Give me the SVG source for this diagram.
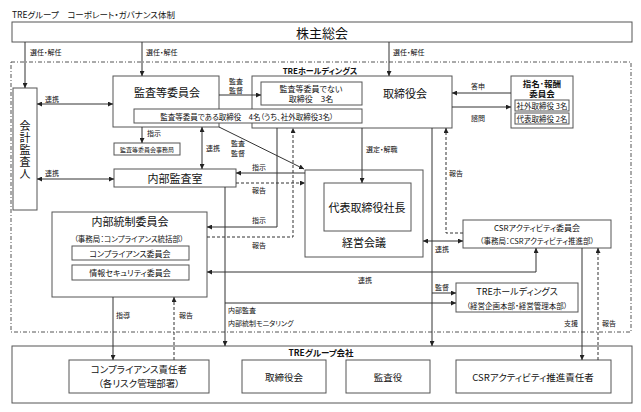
<svg xmlns="http://www.w3.org/2000/svg" width="641" height="412" viewBox="0 0 641 412">
<defs>
<style>
.t{font-family:"Noto Sans CJK JP","Noto Sans CJK SC",sans-serif;font-feature-settings:"palt";fill:#111;dominant-baseline:central}
.c{text-anchor:middle}
.s{font-size:7px}
.m{font-size:8px}
.b{font-weight:bold}
.box{fill:#fff;stroke:#555;stroke-width:1}
.ln{stroke:#333;fill:none;stroke-width:1}
.dash{stroke-dasharray:3 2}
.dd{fill:none;stroke:#555;stroke-width:1;stroke-dasharray:4 2 1 2}
</style>
<marker id="ah" viewBox="0 0 6 6" refX="6" refY="3" markerWidth="5" markerHeight="5" markerUnits="userSpaceOnUse" orient="auto-start-reverse">
<path d="M0,0 L6,3 L0,6 z" fill="#222"/>
</marker>
</defs>
<rect width="641" height="412" fill="#fff"/>
<text class="t" x="12" y="14" font-size="8.5">TREグループ　コーポレート・ガバナンス体制</text>

<g id="shareholders">
<rect class="box" x="12" y="22" width="620" height="20"/>
<text class="t c" x="322" y="32" font-size="13">株主総会</text>
</g>

<g id="tre-holdings">
<rect class="dd" x="11" y="62" width="620" height="270"/>
<text class="t c b" x="320" y="70" font-size="8">TREホールディングス</text>
</g>

<g id="accounting-auditor">
<rect class="box" x="13" y="88" width="24" height="122"/>
<text class="t" x="25" y="120" font-size="11" letter-spacing="1" style="writing-mode:vertical-rl">会計監査人</text>
</g>

<g id="audit-committee">
<rect class="box" x="113" y="76" width="106" height="51"/>
<text class="t c" x="167" y="92" font-size="11">監査等委員会</text>
</g>

<g id="board">
<rect class="box" x="252" y="76" width="200" height="52"/>
<text class="t c" x="405" y="93" font-size="11">取締役会</text>
<rect class="box" x="261" y="82" width="101" height="23"/>
<text class="t c m" x="311" y="88">監査等委員でない</text>
<text class="t c m" x="311" y="98.5">取締役　3名</text>
</g>

<g id="audit-directors">
<rect class="box" x="134" y="109" width="228" height="14"/>
<text class="t c" x="247" y="116" font-size="7.5">監査等委員である取締役　4名（うち、社外取締役3名）</text>
</g>

<g id="nomination-committee">
<rect class="box" x="511" y="76" width="62" height="52"/>
<text class="t c b" x="542" y="82.5" font-size="8.5">指名･報酬</text>
<text class="t c b" x="542" y="93" font-size="8.5">委員会</text>
<rect class="box" x="515" y="100" width="54" height="11"/>
<text class="t c" x="542" y="105.5" font-size="7.5">社外取締役 3名</text>
<rect class="box" x="515" y="113" width="54" height="11"/>
<text class="t c" x="542" y="118.5" font-size="7.5">代表取締役 2名</text>
</g>

<g id="audit-secretariat">
<rect class="box" x="114" y="143" width="66" height="12"/>
<text class="t c" x="147" y="149" font-size="6">監査等委員会事務局</text>
</g>

<g id="internal-audit">
<rect class="box" x="114" y="169" width="122" height="18"/>
<text class="t c" x="175" y="178" font-size="11">内部監査室</text>
</g>

<g id="management-meeting">
<rect class="box" x="305" y="170" width="118" height="87"/>
<text class="t c" x="364" y="242" font-size="11">経営会議</text>
</g>

<g id="president">
<rect class="box" x="324" y="183" width="87" height="48"/>
<text class="t c" x="367" y="207" font-size="11">代表取締役社長</text>
</g>

<g id="internal-control-committee">
<rect class="box" x="52" y="212" width="155" height="85"/>
<text class="t c" x="130" y="221" font-size="11">内部統制委員会</text>
<text class="t c" x="129" y="238" font-size="7.5">（事務局：コンプライアンス統括部）</text>
<rect class="box" x="72" y="246" width="117" height="14"/>
<text class="t c m" x="130" y="253">コンプライアンス委員会</text>
<rect class="box" x="72" y="265" width="117" height="15"/>
<text class="t c m" x="130" y="272.5">情報セキュリティ委員会</text>
</g>

<g id="csr-committee">
<rect class="box" x="463" y="220" width="148" height="28"/>
<text class="t c m" x="537" y="227">CSRアクティビティ委員会</text>
<text class="t c" x="537" y="240" font-size="7.5">（事務局：CSRアクティビティ推進部）</text>
</g>

<g id="tre-hd-departments">
<rect class="box" x="456" y="283" width="122" height="29"/>
<text class="t c" x="517" y="291" font-size="9">TREホールディングス</text>
<text class="t c" x="517" y="305" font-size="7.5">（経営企画本部・経営管理本部）</text>
</g>

<g id="group-companies">
<rect class="box" x="12" y="346" width="620" height="57"/>
<text class="t c b" x="321" y="352" font-size="8.5">TREグループ会社</text>
</g>

<g id="compliance-officer">
<rect class="box" x="69" y="360" width="140" height="33"/>
<text class="t c" x="139" y="369" font-size="9.5">コンプライアンス責任者</text>
<text class="t c" x="139" y="383" font-size="9.5">（各リスク管理部署）</text>
</g>

<g id="group-board">
<rect class="box" x="242" y="360" width="84" height="33"/>
<text class="t c" x="284" y="377" font-size="9.5">取締役会</text>
</g>

<g id="group-auditor">
<rect class="box" x="346" y="360" width="84" height="33"/>
<text class="t c" x="388" y="377" font-size="9.5">監査役</text>
</g>

<g id="csr-officer">
<rect class="box" x="456" y="360" width="155" height="33"/>
<text class="t c" x="533" y="377" font-size="9.5">CSRアクティビティ推進責任者</text>
</g>

<g id="connectors">
<path class="ln" d="M25,42 V88" marker-end="url(#ah)"/>
<path class="ln" d="M142,42 V76" marker-end="url(#ah)"/>
<path class="ln" d="M389,42 V76" marker-end="url(#ah)"/>
<path class="ln" d="M37,104 H113" marker-start="url(#ah)" marker-end="url(#ah)"/>
<path class="ln" d="M219,95 H261" marker-end="url(#ah)"/>
<path class="ln" d="M511,93 H452" marker-end="url(#ah)"/>
<path class="ln" d="M452,107 H511" marker-end="url(#ah)"/>
<path class="ln" d="M142,127 V143" marker-end="url(#ah)"/>
<path class="ln" d="M202,127 V169" marker-start="url(#ah)" marker-end="url(#ah)"/>
<path class="ln" d="M219,127 L304,169" marker-end="url(#ah)"/>
<path class="ln" d="M37,179 H114" marker-start="url(#ah)" marker-end="url(#ah)"/>
<path class="ln" d="M305,173 H236" marker-end="url(#ah)"/>
<path class="ln dash" d="M236,183 H305" marker-end="url(#ah)"/>
<path class="ln" d="M362,128 V183" marker-end="url(#ah)"/>
<path class="ln" d="M277,128 V227 H207" marker-end="url(#ah)"/>
<path class="ln dash" d="M207,237 H293 V128" marker-end="url(#ah)"/>
<path class="ln dash" d="M463,233 H446 V128" marker-end="url(#ah)"/>
<path class="ln" d="M432,128 V346" marker-end="url(#ah)"/>
<path class="ln" d="M432,293 H456" marker-end="url(#ah)"/>
<path class="ln" d="M423,241 H463" marker-start="url(#ah)" marker-end="url(#ah)"/>
<path class="ln" d="M536,248 V272 H207" marker-start="url(#ah)" marker-end="url(#ah)"/>
<path class="ln" d="M225,187 V346" marker-end="url(#ah)"/>
<path class="ln" d="M225,303 H456" marker-end="url(#ah)"/>
<path class="ln" d="M582,248 V360" marker-end="url(#ah)"/>
<path class="ln dash" d="M598,360 V248" marker-end="url(#ah)"/>
<path class="ln" d="M113,297 V360" marker-end="url(#ah)"/>
<path class="ln dash" d="M174,360 V297" marker-end="url(#ah)"/>

<text class="t s" x="30" y="52">選任・解任</text>
<text class="t s" x="146" y="52">選任・解任</text>
<text class="t s" x="393" y="52">選任・解任</text>
<text class="t s" x="45" y="99">連携</text>
<text class="t s c" x="236" y="81">監査</text>
<text class="t s c" x="236" y="90">監督</text>
<text class="t s c" x="478" y="86">答申</text>
<text class="t s c" x="478" y="118">諮問</text>
<text class="t s" x="147" y="133">指示</text>
<text class="t s" x="206" y="148">連携</text>
<text class="t s c" x="238" y="143">監査</text>
<text class="t s c" x="238" y="153">監督</text>
<text class="t s" x="45" y="173">連携</text>
<text class="t s c" x="259" y="167">指示</text>
<text class="t s c" x="259" y="190">報告</text>
<text class="t s" x="366" y="149">選定・解職</text>
<text class="t s c" x="259" y="220">指示</text>
<text class="t s c" x="259" y="245">報告</text>
<text class="t s" x="449" y="173">報告</text>
<text class="t s" x="435" y="287">監督</text>
<text class="t s" x="435" y="249">連携</text>
<text class="t s c" x="365" y="280">連携</text>
<text class="t s" x="228" y="310">内部監査</text>
<text class="t s" x="228" y="323">内部統制モニタリング</text>
<text class="t s" x="564" y="323">支援</text>
<text class="t s" x="602" y="323">報告</text>
<text class="t s" x="116" y="315">指導</text>
<text class="t s" x="179" y="315">報告</text>
</g>
</svg>
